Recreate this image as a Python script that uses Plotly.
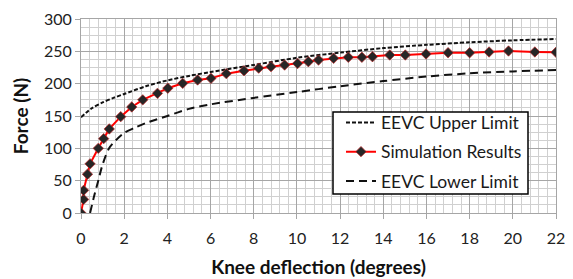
import plotly.graph_objects as go

sim_x = [0, 0.12, 0.12, 0.3, 0.42, 0.8, 1.05, 1.31, 1.84, 2.35, 2.86, 3.54, 4.02, 4.71, 5.4, 6.02,
         6.73, 7.55, 8.23, 8.8, 9.43, 10.03, 10.53, 11.0, 11.7, 12.38, 13.01, 13.5, 14.3, 15.02,
         15.98, 17.0, 18.0, 18.9, 19.8, 21.02, 22.0]
sim_f = [0, 21, 35, 60, 76, 100, 115, 130, 149, 164, 175, 185, 193, 200.5, 205.7, 208.2,
         215.5, 220, 224, 226.3, 228.8, 231.2, 234, 236.6, 239.2, 240.8, 240.8, 241.7, 244.3, 244.3,
         245.9, 247.9, 247.9, 249, 250.5, 249, 248.5]

upper_x = [0, 0.5, 1, 1.5, 2, 3, 4, 5, 6, 8, 10, 12, 14, 16, 18, 20, 22]
upper_f = [148, 162, 171, 178, 184, 196, 205, 212, 218, 229, 240, 248, 255, 260, 264, 267, 269]

lower_x = [0.42, 0.6, 0.8, 1.0, 1.3, 1.6, 2.0, 2.5, 3, 4, 5, 6, 8, 10, 12, 14, 16, 18, 20, 22]
lower_f = [0, 25, 50, 75, 100, 112, 124, 132, 139, 150, 161, 168, 178, 187, 196, 204, 211, 216, 219, 221]

x_ticks = [0, 2, 4, 6, 8, 10, 12, 14, 16, 18, 20, 22]
y_ticks = [0, 50, 100, 150, 200, 250, 300]

FONT = "Lato"

fig = go.Figure()
fig.add_trace(go.Scatter(
    x=upper_x, y=upper_f, mode="lines", name="EEVC Upper Limit",
    line=dict(color="#111111", width=2, dash="4px,2px", shape="spline", smoothing=0.8),
    legendgroup="a"))
fig.add_trace(go.Scatter(
    x=sim_x, y=sim_f, mode="lines+markers", name="Simulation Results",
    line=dict(color="#ff0000", width=2),
    marker=dict(symbol="diamond", size=8, color="#262626",
                line=dict(color="rgba(190,40,40,0.7)", width=1)),
    legendgroup="b"))
fig.add_trace(go.Scatter(
    x=lower_x, y=lower_f, mode="lines", name="EEVC Lower Limit",
    line=dict(color="#111111", width=2, dash="8px,5px", shape="spline", smoothing=0.8),
    legendgroup="c"))

grid_major = "#a6a6a6"
grid_minor = "#d0d0d0"

# page body has an 8px margin; plot area targets x 81..556, y 19..213 in the window
PX0, PX1, PY0, PY1 = 81, 556, 19, 213


def fx(px):
    return (px - PX0) / (PX1 - PX0)


def fy(py):
    return (PY1 - py) / (PY1 - PY0)


# legend frame (white box with black border) drawn behind the legend entries
fig.add_shape(type="rect", xref="paper", yref="paper",
              x0=fx(333), x1=fx(528), y0=fy(194), y1=fy(112),
              fillcolor="white", line=dict(color="black", width=1.5), layer="above")

fig.update_layout(
    width=565, height=271,
    margin=dict(l=73, r=17, t=11, b=66),
    paper_bgcolor="white", plot_bgcolor="white",
    font=dict(family=FONT, size=13, color="#222222"),
    showlegend=True,
    legend=dict(
        x=fx(341), y=fy(104.5),
        xanchor="left", yanchor="top",
        bgcolor="rgba(0,0,0,0)", borderwidth=0,
        font=dict(family=FONT, size=17.5, color="#1a1a1a"),
        traceorder="grouped", tracegroupgap=3.5, itemwidth=30,
    ),
    xaxis=dict(
        range=[0, 22], tickvals=x_ticks, ticktext=[str(v) for v in x_ticks],
        showgrid=True, gridcolor=grid_major, gridwidth=1,
        minor=dict(dtick=0.4, showgrid=True, gridcolor=grid_minor, gridwidth=1),
        showline=True, linecolor=grid_major, linewidth=1, mirror=True,
        ticks="outside", ticklen=5, tickcolor=grid_major,
        zeroline=False, automargin=False, ticklabelstandoff=6,
        tickfont=dict(family=FONT, size=16, color="#222222"),
        title=dict(text="<b>Knee deflection (degrees)</b>",
                   font=dict(family=FONT, size=19, color="#111111"), standoff=14),
    ),
    yaxis=dict(
        range=[0, 300], tickvals=y_ticks, ticktext=[str(v) for v in y_ticks],
        showgrid=True, gridcolor=grid_major, gridwidth=1,
        minor=dict(dtick=12.5, showgrid=True, gridcolor=grid_minor, gridwidth=1),
        showline=True, linecolor=grid_major, linewidth=1, mirror=True,
        ticks="outside", ticklen=5, tickcolor=grid_major,
        zeroline=False, automargin=False,
        tickfont=dict(family=FONT, size=16, color="#222222"),
        title=dict(text="<b>Force (N)</b>",
                   font=dict(family=FONT, size=19, color="#111111"), standoff=10),
    ),
)

fig.write_html("out.html")
